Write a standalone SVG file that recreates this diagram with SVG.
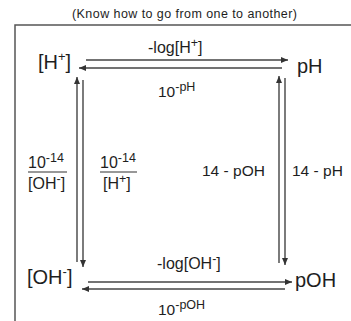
<svg xmlns="http://www.w3.org/2000/svg" width="351" height="321" viewBox="0 0 351 321">
<defs>
<style>
text{font-family:"Liberation Sans",Arial,sans-serif;fill:#1e1e1e}
.big{font-size:20px}
.mid{font-size:16px}
.sm{font-size:15.5px}
.sup{font-size:12.5px}
.ln{stroke:#444;stroke-width:1.4;fill:none}
.frame{stroke:#555;stroke-width:1.5;fill:none}
</style>
<marker id="ah" markerUnits="userSpaceOnUse" markerWidth="8" markerHeight="6" refX="7" refY="3" orient="auto">
<path d="M0,0 L7,3 L0,6 z" fill="#333"/>
</marker>
</defs>
<rect width="351" height="321" fill="#fff"/>
<path class="frame" d="M15,321 V25 H351"/>
<text x="184.5" y="18" font-size="12.5" text-anchor="middle" textLength="225" lengthAdjust="spacing">(Know how to go from one to another)</text>

<g id="node-H"><text class="big" x="38" y="69">[H<tspan font-size="13" dy="-8">+</tspan><tspan dy="8">]</tspan></text></g>
<g id="node-pH"><text class="big" x="297" y="73">pH</text></g>
<g id="node-OH"><text class="big" x="27" y="284">[OH<tspan font-size="13" dy="-8">-</tspan><tspan dy="8">]</tspan></text></g>
<g id="node-pOH"><text class="big" x="295" y="287">pOH</text></g>

<g id="connectors">
<line class="ln" x1="86" y1="60" x2="288" y2="60" marker-end="url(#ah)"/>
<line class="ln" x1="282" y1="68" x2="79" y2="68" marker-end="url(#ah)"/>
<line class="ln" x1="77" y1="262" x2="77" y2="77" marker-end="url(#ah)"/>
<line class="ln" x1="83" y1="80" x2="83" y2="267" marker-end="url(#ah)"/>
<line class="ln" x1="279" y1="263" x2="279" y2="76" marker-end="url(#ah)"/>
<line class="ln" x1="285" y1="78" x2="285" y2="265" marker-end="url(#ah)"/>
<line class="ln" x1="88" y1="282" x2="292" y2="282" marker-end="url(#ah)"/>
<line class="ln" x1="285" y1="289" x2="82" y2="289" marker-end="url(#ah)"/>
</g>

<g id="labels">
<text class="mid" x="148" y="53">-log[H<tspan class="sup" dy="-6">+</tspan><tspan dy="6">]</tspan></text>
<text class="sm" x="158" y="97">10<tspan class="sup" dy="-6">-pH</tspan></text>
<text class="mid" x="28" y="168">10<tspan class="sup" dy="-6">-14</tspan></text>
<line x1="28" y1="172" x2="67" y2="172" stroke="#333" stroke-width="1.2"/>
<text class="mid" x="28" y="189">[OH<tspan class="sup" dy="-6">-</tspan><tspan dy="6">]</tspan></text>
<text class="mid" x="100" y="168">10<tspan class="sup" dy="-6">-14</tspan></text>
<line x1="100" y1="172" x2="137" y2="172" stroke="#333" stroke-width="1.2"/>
<text class="mid" x="103" y="189">[H<tspan class="sup" dy="-6">+</tspan><tspan dy="6">]</tspan></text>
<text class="sm" x="202" y="176">14 - pOH</text>
<text class="sm" x="292" y="176">14 - pH</text>
<text class="mid" x="157" y="269">-log[OH<tspan class="sup" dy="-6">-</tspan><tspan dy="6">]</tspan></text>
<text class="sm" x="158" y="315">10<tspan class="sup" dy="-6">-pOH</tspan></text>
</g>
</svg>
